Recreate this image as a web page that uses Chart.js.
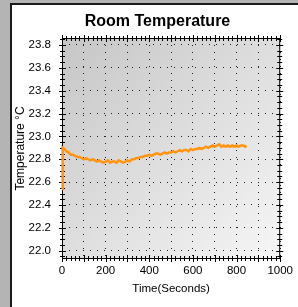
<!DOCTYPE html>
<html><head><meta charset="utf-8">
<script src="https://cdn.jsdelivr.net/npm/chart.js@4"></script>
<style>html,body{margin:0;padding:0;background:#fff;}#wrap{width:298px;height:307px;}</style>
</head><body><div id="wrap"><canvas id="c" width="298" height="307"></canvas></div>
<script>
const timeSec = [0,2,4,10,20,30,40,50,60,70,80,90,100,110,120,130,140,150,160,170,180,190,200,210,220,230,240,250,260,270,280,290,300,310,320,330,340,350,360,370,380,390,400,410,420,430,440,450,460,470,480,490,500,510,520,530,540,550,560,570,580,590,600,610,620,630,640,650,660,670,680,690,700,710,720,730,740,750,760,770,780,790,800,810,820,830,840,845];
const tempC = [22.54,22.77,22.90,22.89,22.87,22.86,22.84,22.84,22.83,22.82,22.82,22.81,22.80,22.81,22.80,22.79,22.80,22.79,22.78,22.79,22.78,22.77,22.78,22.79,22.77,22.78,22.78,22.77,22.79,22.78,22.77,22.78,22.79,22.78,22.80,22.80,22.81,22.81,22.82,22.82,22.83,22.83,22.84,22.83,22.84,22.85,22.85,22.84,22.85,22.86,22.85,22.86,22.86,22.87,22.86,22.87,22.88,22.87,22.88,22.88,22.87,22.89,22.88,22.89,22.89,22.90,22.89,22.90,22.91,22.90,22.91,22.92,22.91,22.92,22.93,22.91,22.92,22.91,22.92,22.91,22.92,22.91,22.92,22.91,22.92,22.92,22.91,22.92];
const yTickValues = [22.0,22.2,22.4,22.6,22.8,23.0,23.2,23.4,23.6,23.8];
const xTickValues = [0,100,200,300,400,500,600,700,800,900,1000];
const xLabelValues = [0,200,400,600,800,1000];
const chartTitle = 'Room Temperature';

const FONT = "'Liberation Sans', Arial, sans-serif";

const framePlugin = {
  id: 'frame',
  beforeDraw(chart) {
    const ctx = chart.ctx, a = chart.chartArea;
    ctx.save();
    ctx.fillStyle = '#b4b4b4';
    ctx.fillRect(0, 0, chart.width, chart.height);
    ctx.fillStyle = '#ffffff';
    ctx.fillRect(10, 3, chart.width - 10, chart.height - 3);
    ctx.strokeStyle = '#1a1a1a';
    ctx.lineWidth = 2;
    ctx.beginPath();
    ctx.moveTo(11, chart.height); ctx.lineTo(11, 4); ctx.lineTo(chart.width, 4);
    ctx.stroke();
    const g = ctx.createLinearGradient(a.left, a.top, a.right, a.bottom);
    g.addColorStop(0, '#c6c6c6');
    g.addColorStop(1, '#f6f6f6');
    ctx.fillStyle = g;
    ctx.fillRect(a.left, a.top, a.right - a.left, a.bottom - a.top);
    ctx.fillStyle = '#000';
    ctx.font = "bold 16px " + FONT;
    ctx.textAlign = 'center';
    ctx.textBaseline = 'alphabetic';
    ctx.fillText(chartTitle, 157.5, 26);
    ctx.restore();
  },
  beforeDatasetsDraw(chart) {
    const ctx = chart.ctx, a = chart.chartArea;
    const xs = chart.scales.x, ys = chart.scales.y;
    ctx.save();
    ctx.strokeStyle = '#000';
    ctx.lineWidth = 1;
    ctx.strokeRect(a.left + 0.5, a.top + 0.5, a.right - a.left - 1, a.bottom - a.top - 1);
    ctx.beginPath();
    for (let i = 0; i <= 40; i++) {
      const v = 21.95 + i * 0.05;
      if (v > ys.max) break;
      const y = Math.round(ys.getPixelForValue(v)) + 0.5;
      const r = Math.round(v * 100) % 20;
      const l = r === 0 ? 3 : 2;
      ctx.moveTo(a.left - l, y); ctx.lineTo(a.left + l + 1, y);
      ctx.moveTo(a.right - l - 1, y); ctx.lineTo(a.right + l, y);
    }
    for (let t = 0; t <= 1000; t += 20) {
      const x = Math.round(xs.getPixelForValue(t)) + 0.5;
      const l = t % 100 === 0 ? 3 : 2;
      ctx.moveTo(x, a.bottom - l - 1); ctx.lineTo(x, a.bottom + l);
      ctx.moveTo(x, a.top - l); ctx.lineTo(x, a.top + l + 1);
    }
    ctx.stroke();
    ctx.restore();
  }
};

new Chart(document.getElementById('c'), {
  type: 'line',
  data: {
    datasets: [{
      data: timeSec.map((t, i) => ({x: t, y: tempC[i]})),
      borderColor: '#ff9410',
      borderWidth: 2.5,
      pointRadius: 0,
      tension: 0,
      fill: false,
      clip: 3
    }]
  },
  options: {
    responsive: false,
    animation: false,
    devicePixelRatio: 1,
    layout: { padding: { left: 10, right: 9, top: 38, bottom: 0 } },
    plugins: {
      legend: { display: false },
      tooltip: { enabled: false },
      title: { display: false }
    },
    scales: {
      x: {
        type: 'linear',
        min: 0, max: 1000,
        afterFit: s => { s.height = 48; },
        afterBuildTicks: s => { s.ticks = xTickValues.map(v => ({value: v})); },
        ticks: {
          autoSkip: false, maxRotation: 0,
          color: '#000',
          font: { family: FONT, size: 11.5 },
          padding: 5,
          callback: v => xLabelValues.includes(v) ? String(v) : ''
        },
        grid: { color: '#222', lineWidth: 1, drawTicks: false },
        border: { display: false, dash: [1, 6] },
        title: {
          display: true, text: 'Time(Seconds)', color: '#000',
          font: { family: FONT, size: 11.5 },
          padding: { top: 0, bottom: 11 }
        }
      },
      y: {
        type: 'linear',
        min: 21.927, max: 23.861,
        afterFit: s => { s.width = 52; },
        afterBuildTicks: s => { s.ticks = yTickValues.map(v => ({value: v})); },
        ticks: {
          autoSkip: false,
          color: '#000',
          font: { family: FONT, size: 11.5 },
          padding: 11,
          callback: v => Number(v).toFixed(1)
        },
        grid: { color: '#222', lineWidth: 1, drawTicks: false },
        border: { display: false, dash: [1, 6] },
        title: {
          display: true, text: 'Temperature °C', color: '#000',
          font: { family: FONT, size: 12 },
          padding: { top: 3, bottom: 0 }
        }
      }
    }
  },
  plugins: [framePlugin]
});
</script></body></html>
